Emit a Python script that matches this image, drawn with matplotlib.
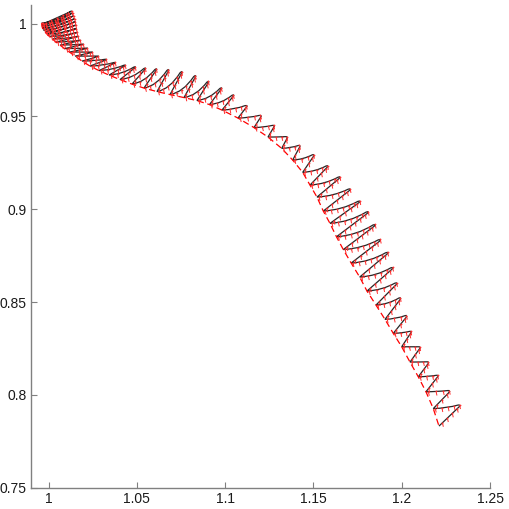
import numpy as np
import matplotlib
matplotlib.use("Agg")
import matplotlib.pyplot as plt
from matplotlib.collections import LineCollection
from matplotlib.path import Path
from matplotlib.patches import PathPatch

# Left (lower) turning points of the oscillating trajectory
left_x = [0.99595, 0.99612, 0.99623, 0.99651, 0.99708, 0.99793, 0.99906, 1.00048, 1.00218, 1.00416,
          1.00643, 1.00897, 1.01181, 1.01492, 1.01889, 1.02342, 1.02852, 1.03418, 1.04041, 1.04721,
          1.05400, 1.06137, 1.06873, 1.07666, 1.08402, 1.09110, 1.09818, 1.10724, 1.11631, 1.12424,
          1.13200, 1.13823, 1.14389, 1.14803, 1.15199, 1.15556, 1.15935, 1.16303, 1.16689, 1.17136,
          1.17618, 1.18031, 1.18541, 1.19051, 1.19521, 1.19997, 1.20467, 1.20937, 1.21373, 1.21787]
left_y = [1.00030, 0.99949, 0.99869, 0.99761, 0.99653, 0.99545, 0.99437, 0.99303, 0.99168, 0.99006,
          0.98845, 0.98656, 0.98468, 0.98252, 0.97983, 0.97713, 0.97471, 0.97228, 0.96986, 0.96743,
          0.96528, 0.96339, 0.96178, 0.96016, 0.95854, 0.95639, 0.95343, 0.94912, 0.94400, 0.93888,
          0.93279, 0.92649, 0.91986, 0.91302, 0.90655, 0.89901, 0.89238, 0.88516, 0.87826, 0.87099,
          0.86345, 0.85590, 0.84836, 0.84065, 0.83311, 0.82589, 0.81765, 0.80972, 0.80164, 0.79259]
# Right (upper) turning points
right_x = [1.01436, 1.01492, 1.01549, 1.01605, 1.01634, 1.01662, 1.01690, 1.01719, 1.01775, 1.01889,
           1.02059, 1.02285, 1.02568, 1.02908, 1.03361, 1.03871, 1.04437, 1.05004, 1.05570, 1.06193,
           1.06873, 1.07626, 1.08402, 1.09139, 1.09875, 1.10555, 1.11291, 1.12084, 1.12820, 1.13556,
           1.14276, 1.15086, 1.15896, 1.16615, 1.17210, 1.17776, 1.18258, 1.18654, 1.18937, 1.19351,
           1.19617, 1.19826, 1.20013, 1.20353, 1.20580, 1.21090, 1.21571, 1.22109, 1.22789, 1.23384]
right_y = [1.00731, 1.00623, 1.00461, 1.00300, 1.00138, 0.99949, 0.99761, 0.99545, 0.99330, 0.99114,
           0.98899, 0.98683, 0.98468, 0.98252, 0.98090, 0.97929, 0.97794, 0.97713, 0.97659, 0.97633,
           0.97606, 0.97498, 0.97282, 0.96959, 0.96598, 0.96205, 0.95612, 0.95073, 0.94534, 0.93915,
           0.93457, 0.92972, 0.92379, 0.91787, 0.91140, 0.90493, 0.89928, 0.89238, 0.88419, 0.87729,
           0.86910, 0.86075, 0.85267, 0.84297, 0.83435, 0.82589, 0.81781, 0.81064, 0.80240, 0.79475]
end_x = 1.22109
end_y = 0.78316

xticks = [1.0, 1.05, 1.1, 1.15, 1.2, 1.25]
xtick_labels = ["1", "1.05", "1.1", "1.15", "1.2", "1.25"]
yticks = [0.75, 0.8, 0.85, 0.9, 0.95, 1.0]
ytick_labels = ["0.75", "0.8", "0.85", "0.9", "0.95", "1"]

plt.rcParams['font.family'] = ['Liberation Sans', 'DejaVu Sans']

fig = plt.figure(figsize=(5.09, 5.09), dpi=100)
ax = fig.add_axes([0.0609, 0.042, 0.9018, 0.948])
ax.set_xlim(0.99, 1.25)
ax.set_ylim(0.75, 1.01)

# trajectory path: sagging stroke L->R, rounded tip at R, straight return to next L
nxt_x = list(left_x[1:]) + [end_x]
nxt_y = list(left_y[1:]) + [end_y]
verts = [(left_x[0], left_y[0])]
codes = [Path.MOVETO]
for lx, ly, rx, ry, nx, ny in zip(left_x, left_y, right_x, right_y, nxt_x, nxt_y):
    a = 0.12  # fraction of each stroke used for tip rounding
    p1 = (rx + a * (lx - rx), ry + a * (ly - ry))
    p2 = (rx + a * (nx - rx), ry + a * (ny - ry))
    c0 = (lx + 0.55 * (p1[0] - lx), ly + 0.12 * (p1[1] - ly))
    verts += [c0, p1, (rx, ry), p2, (nx, ny)]
    codes += [Path.CURVE3, Path.CURVE3, Path.CURVE3, Path.CURVE3, Path.LINETO]
traj = Path(verts, codes)
ax.add_patch(PathPatch(traj, fill=False, edgecolor='#262626', lw=0.9, zorder=2))

# envelope through lower turning points
ex = list(left_x) + [end_x]
ey = list(left_y) + [end_y]
ax.plot(ex, ey, color='#ff0000', lw=0.9, dashes=(5, 3), zorder=3)

# small red direction ticks hanging below the trajectory (spaced along the drawn path)
fig.canvas.draw()
to_disp = ax.transData
inv = to_disp.inverted()
segs, bases = [], []
for seg, code in traj.iter_bezier():
    pts = seg.point_at_t(np.linspace(0, 1, 12))
    d = to_disp.transform(pts)
    length = np.sum(np.hypot(*np.diff(d, axis=0).T))
    n = max(1, int(round(length / 6.5)))
    for t in (np.arange(n) + 0.3) / n:
        b = np.asarray(seg.point_at_t(t)).ravel()
        bd = to_disp.transform(b)
        tip = inv.transform(bd + np.array([0.9, -4.0]))
        bases.append(b)
        segs.append([tuple(b), tuple(tip)])
ax.add_collection(LineCollection(segs, colors='#ff2a2a', linewidths=0.7, zorder=4))
bases = np.array(bases)
ax.plot(bases[:, 0], bases[:, 1], 'o', ms=1.3, color='#ff3030', mec='none', zorder=4)

ax.set_xticks(xticks)
ax.set_xticklabels(xtick_labels)
ax.set_yticks(yticks)
ax.set_yticklabels(ytick_labels)
for s in ['top', 'right']:
    ax.spines[s].set_visible(False)
for s in ['left', 'bottom']:
    ax.spines[s].set_color('#808080')
    ax.spines[s].set_linewidth(1.0)
ax.tick_params(direction='in', length=4, width=0.8, color='#808080', labelsize=10,
               labelcolor='#1a1a1a', pad=3)

fig.savefig('out.png', dpi=100)
